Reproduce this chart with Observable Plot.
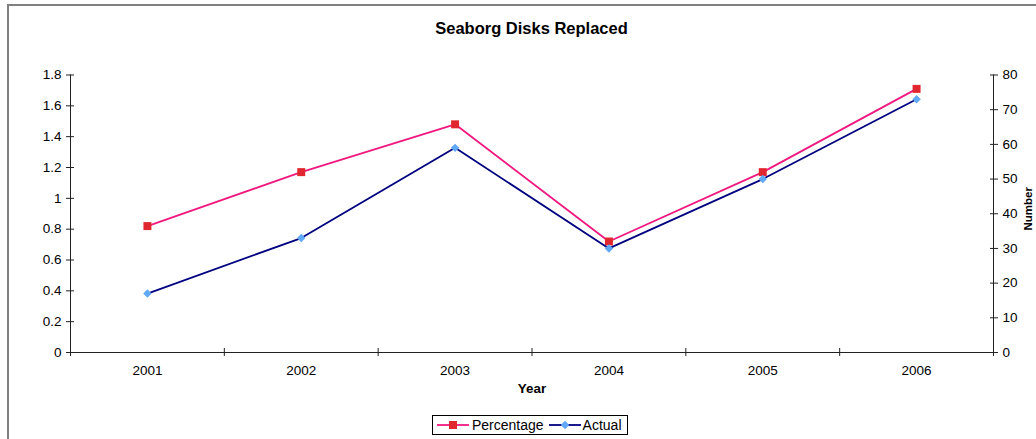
<!DOCTYPE html>
<html>
<head>
<meta charset="utf-8">
<script src="https://cdn.jsdelivr.net/npm/d3@7"></script>
<script src="https://cdn.jsdelivr.net/npm/@observablehq/plot@0.6"></script>
<style>
  html, body { margin: 0; padding: 0; background: #fff; }
  #wrap { position: relative; width: 1036px; height: 439px; overflow: hidden; font-family: "Liberation Sans", Arial, sans-serif; color: #000; }
  #frame { position: absolute; left: 7px; top: 4px; width: 1100px; height: 500px; border-left: 2px solid #808080; border-top: 2px solid #808080; box-sizing: border-box; pointer-events: none; }
  #title { margin-left: 70px; width: 923px; height: 56px; line-height: 56px; text-align: center; font-weight: bold; font-size: 16.5px; }
  #chart svg { display: block; }
  #legend { margin-left: 432px; margin-top: 9px; width: 196px; height: 20px; box-sizing: border-box; border: 1px solid #000; display: flex; align-items: center; font-size: 14px; white-space: nowrap; }
  #legend svg { display: block; }
</style>
</head>
<body>
<div id="wrap">
  <div id="frame"></div>
  <div id="title"></div>
  <div id="chart"></div>
  <div id="legend"></div>
</div>
<script>
const title = "Seaborg Disks Replaced";
const years = [2001, 2002, 2003, 2004, 2005, 2006];
const percentage = [0.82, 1.17, 1.48, 0.72, 1.17, 1.71];
const actual = [17, 33, 59, 30, 50, 73];
const leftTicks = [0, 0.2, 0.4, 0.6, 0.8, 1, 1.2, 1.4, 1.6, 1.8];
const rightTicks = [0, 10, 20, 30, 40, 50, 60, 70, 80];
const xTitle = "Year";
const yRightTitle = "Number";
const seriesNames = ["Percentage", "Actual"];

const pinkLine = "#f0187f", redMarker = "#e0262e";
const navyLine = "#000080", blueMarker = "#60a8f8";

document.getElementById("title").textContent = title;

const ratio = leftTicks[leftTicks.length - 1] / rightTicks[rightTicks.length - 1];
const pData = years.map((y, i) => ({year: y, value: percentage[i]}));
const aData = years.map((y, i) => ({year: y, value: actual[i] * ratio}));
const xDomain = [years[0] - 0.5, years[years.length - 1] + 0.5];
const boundaries = [...years.map(y => y - 0.5), years[years.length - 1] + 0.5];

const chart = Plot.plot({
  width: 1036,
  height: 350,
  marginTop: 18.5,
  marginBottom: 54,
  marginLeft: 70,
  marginRight: 43,
  style: {fontFamily: "'Liberation Sans', Arial, sans-serif", fontSize: "13.5px", color: "#000", background: "transparent"},
  x: {domain: xDomain, type: "linear"},
  y: {domain: [0, leftTicks[leftTicks.length - 1]]},
  marks: [
    Plot.ruleY([0], {stroke: "#222"}),
    Plot.ruleX(xDomain, {stroke: "#222"}),
    Plot.axisX({ticks: years, tickSize: 0, tickPadding: 13, tickFormat: d => String(d), label: null}),
    Plot.axisX({ticks: boundaries, tickSize: 8, dy: -4, fill: "none", stroke: "#222", label: null}),
    Plot.axisY({ticks: leftTicks, tickSize: 8, dx: 4, tickPadding: 5, stroke: "#222", tickFormat: d => String(+(+d).toFixed(1)), label: null}),
    Plot.axisY({anchor: "right", ticks: rightTicks.map(v => v * ratio), tickSize: 8, dx: -4, tickPadding: 5, stroke: "#222", tickFormat: d => String(Math.round(d / ratio)), label: null}),
    Plot.text([xTitle], {frameAnchor: "bottom", dy: 40, text: d => d, fontWeight: "bold", fontSize: 13.4}),
    Plot.text([yRightTitle], {frameAnchor: "right", dx: 35, dy: -5, rotate: -90, textAnchor: "middle", text: d => d, fontWeight: "bold", fontSize: 11.5}),
    Plot.line(pData, {x: "year", y: "value", stroke: pinkLine, strokeWidth: 1.8}),
    Plot.dot(pData, {x: "year", y: "value", symbol: "square", fill: redMarker, r: 4.5, stroke: "none"}),
    Plot.line(aData, {x: "year", y: "value", stroke: navyLine, strokeWidth: 1.8}),
    Plot.dot(aData, {x: "year", y: "value", symbol: "diamond2", fill: blueMarker, r: 3.8, stroke: "none"})
  ]
});
document.getElementById("chart").appendChild(chart);

// Legend
const legend = d3.select("#legend");
function swatch(lineColor, markerColor, kind) {
  const s = legend.append("svg").attr("width", 32).attr("height", 12);
  s.append("line").attr("x1", 0).attr("x2", 32).attr("y1", 6).attr("y2", 6).attr("stroke", lineColor).attr("stroke-width", 1.8);
  s.append("path").attr("transform", "translate(16,6)")
    .attr("d", d3.symbol(kind === "square" ? d3.symbolSquare : d3.symbolDiamond2, Math.PI * (kind === "square" ? 4.5 * 4.5 : 3.8 * 3.8))())
    .attr("fill", markerColor);
  return s;
}
swatch(pinkLine, redMarker, "square").style("margin-left", "4px");
legend.append("span").text(seriesNames[0]).style("margin-left", "3px");
swatch(navyLine, blueMarker, "diamond").style("margin-left", "5px");
legend.append("span").text(seriesNames[1]).style("margin-left", "2px");
</script>
</body>
</html>
